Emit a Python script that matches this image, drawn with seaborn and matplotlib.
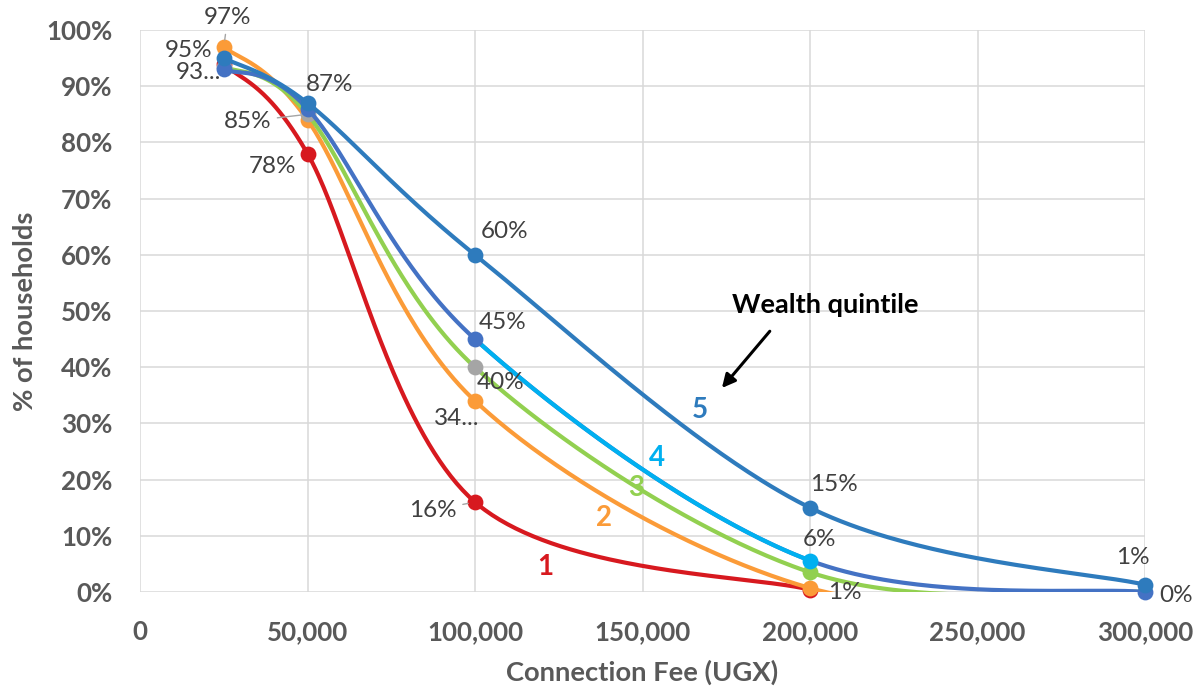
import numpy as np
import pandas as pd
import matplotlib
matplotlib.use("Agg")
import matplotlib.pyplot as plt
from matplotlib.ticker import PercentFormatter, FuncFormatter, MultipleLocator
import seaborn as sns

# ---- data -------------------------------------------------------------
fee = [25000, 50000, 100000, 200000, 300000]

q1 = [0.94, 0.78, 0.16, 0.004]           # quintile 1 (poorest), to 200,000
q2 = [0.97, 0.84, 0.34, 0.007, 0.0]
q3 = [0.935, 0.85, 0.40, 0.035, 0.0]
q4 = [0.93, 0.86, 0.45, 0.056, 0.0]
q5 = [0.95, 0.87, 0.60, 0.15, 0.013]     # quintile 5 (richest)

quintile_names = ["1", "2", "3", "4", "5"]

# ---- styling ----------------------------------------------------------
C_RED = "#d7191f"
C_ORANGE = "#fb9b38"
C_GREEN = "#92d050"
C_GREY = "#a5a5a5"
C_MIDBLUE = "#4472c4"
C_LIGHTBLUE = "#00b0f0"
C_DARKBLUE = "#2e7bbd"
TXT = "#404040"
AXTXT = "#595959"

sns.set_theme(style="whitegrid")
plt.rcParams["font.family"] = ["Lato", "DejaVu Sans"]

W_PX, H_PX = 1200, 688
fig = plt.figure(figsize=(W_PX / 100, H_PX / 100), dpi=100)
L, R, T, B = 140, 1145, 30, 592
ax = fig.add_axes([L / W_PX, 1 - B / H_PX, (R - L) / W_PX, (B - T) / H_PX])

XMAX, YMAX = 300000, 1.0
AX_W, AX_H = R - L, B - T


def smooth(xs, ys, n=80):
    """Smoothed line: cubic Bezier segments with Catmull-Rom tangents
    (1/6 factor), computed in screen proportions."""
    P = np.column_stack([np.asarray(xs, float) / XMAX * AX_W,
                         np.asarray(ys, float) / YMAX * AX_H])
    t = np.linspace(0, 1, n)[:, None]
    out = []
    m = len(P)
    for i in range(m - 1):
        p0 = P[i - 1] if i > 0 else P[i]
        p1, p2 = P[i], P[i + 1]
        p3 = P[i + 2] if i + 2 < m else P[i + 1]
        c1 = p1 + (p2 - p0) / 6.0
        c2 = p2 - (p3 - p1) / 6.0
        seg = ((1 - t) ** 3) * p1 + 3 * ((1 - t) ** 2) * t * c1 \
            + 3 * (1 - t) * t ** 2 * c2 + t ** 3 * p2
        out.append(seg if i == 0 else seg[1:])
    S = np.vstack(out)
    return pd.DataFrame({"fee": S[:, 0] / AX_W * XMAX,
                         "share": S[:, 1] / AX_H * YMAX})


def draw_line(df, color, z):
    sns.lineplot(data=df, x="fee", y="share", ax=ax, color=color, lw=3.0,
                 sort=False, estimator=None, zorder=z, solid_capstyle="round")


def draw_pts(xs, ys, color, z):
    sns.scatterplot(x=xs, y=ys, ax=ax, color=color, s=130, linewidth=0,
                    zorder=z, legend=False, clip_on=False)


# quintile 1
draw_line(smooth(fee[:4], q1), C_RED, 3)
draw_pts(fee[:4], q1, C_RED, 4)
# quintile 2
draw_line(smooth(fee, q2), C_ORANGE, 5)
draw_pts(fee[:4], q2[:4], C_ORANGE, 6)
# quintile 3
draw_line(smooth(fee, q3), C_GREEN, 7)
draw_pts(fee[3:4], q3[3:4], C_GREEN, 8)
draw_pts(fee[:3], q3[:3], C_GREY, 8)
# quintile 4
q4_curve = smooth(fee, q4)
draw_line(q4_curve, C_MIDBLUE, 9)
seg = q4_curve[(q4_curve.fee >= 100000) & (q4_curve.fee <= 200000)]
draw_line(seg, C_LIGHTBLUE, 10)
draw_pts([fee[i] for i in (0, 1, 2, 4)], [q4[i] for i in (0, 1, 2, 4)], C_MIDBLUE, 11)
draw_pts(fee[3:4], q4[3:4], C_LIGHTBLUE, 11)
# quintile 5
draw_line(smooth(fee, q5), C_DARKBLUE, 12)
draw_pts(fee, q5, C_DARKBLUE, 13)

# ---- data labels (offsets in pixels: dx right, dy up) -----------------
def pct(v, trunc=False):
    s = f"{round(v * 100):d}"
    return s + "..." if trunc else s + "%"


labels = [
    (fee[0], q2[0], pct(q2[0]), 4, 29, "center", True),
    (fee[0], q5[0], pct(q5[0]), -35, 8, "center", False),
    (fee[0], q4[0], pct(q4[0], True), -3, -3, "right", False),
    (fee[1], q5[1], pct(q5[1]), 22, 19, "center", False),
    (fee[1], q3[1], pct(q3[1]), -60, -7, "center", True),
    (fee[1], q1[1], pct(q1[1]), -35, -13, "center", False),
    (fee[2], q5[2], pct(q5[2]), 30, 23, "center", False),
    (fee[2], q4[2], pct(q4[2]), 28, 17, "center", False),
    (fee[2], q3[2], pct(q3[2]), 26, -15, "center", False),
    (fee[2], q2[2], pct(q2[2], True), -18, -18, "center", False),
    (fee[2], q1[2], pct(q1[2]), -42, -8, "center", True),
    (fee[3], q5[3], pct(q5[3]), 24, 23, "center", False),
    (fee[3], q4[3], pct(q4[3]), 9, 21, "center", False),
    (fee[3], q2[3], pct(q2[3]), 35, -4, "center", False),
    (fee[4], q5[4], pct(q5[4]), -12, 27, "center", False),
    (fee[4], q4[4], pct(q4[4]), 31, -3, "center", False),
]
for x, y, s, dx, dy, ha, leader in labels:
    kw = {}
    if leader:
        kw["arrowprops"] = dict(arrowstyle="-", color=C_GREY, lw=1.0,
                                shrinkA=2, shrinkB=5)
    ax.annotate(s, xy=(x, y), xytext=(dx * 0.72, dy * 0.72),
                textcoords="offset points", ha=ha, va="center",
                fontsize=17.5, color=TXT, zorder=20, annotation_clip=False, **kw)

# ---- quintile numbers and title ---------------------------------------
qpos = [(121000, 0.044), (138500, 0.132), (148000, 0.185),
        (154300, 0.238), (167200, 0.324)]
qcol = [C_RED, C_ORANGE, C_GREEN, C_LIGHTBLUE, C_DARKBLUE]
for name, (x, y), c in zip(quintile_names, qpos, qcol):
    ax.text(x, y, name, color=c, fontsize=20, fontweight="bold",
            ha="center", va="center", zorder=21)

ax.text(204500, 0.51, "Wealth quintile", color="black", fontsize=19.5,
        fontweight="bold", ha="center", va="center", zorder=21)
ax.annotate("", xy=(173700, 0.363), xytext=(188000, 0.464),
            arrowprops=dict(arrowstyle="-|>", color="black", lw=2.2,
                            mutation_scale=20, shrinkA=0, shrinkB=0),
            zorder=21)

# ---- axes ---------------------------------------------------------------
ax.set_xlim(0, XMAX)
ax.set_ylim(0, YMAX)
ax.xaxis.set_major_locator(MultipleLocator(50000))
ax.yaxis.set_major_locator(MultipleLocator(0.1))
ax.xaxis.set_major_formatter(FuncFormatter(lambda v, _: f"{v:,.0f}"))
ax.yaxis.set_major_formatter(PercentFormatter(1.0, decimals=0))
ax.grid(True, color="#d9d9d9", lw=1.1)
for sp in ax.spines.values():
    sp.set_visible(False)
ax.tick_params(axis="both", length=0, labelsize=18.7, labelcolor=AXTXT)
ax.tick_params(axis="y", pad=20)
ax.tick_params(axis="x", pad=20)
for lab in ax.get_xticklabels() + ax.get_yticklabels():
    lab.set_fontweight("bold")

ax.set_xlabel("Connection Fee (UGX)", fontsize=19.7, fontweight="bold",
              color=AXTXT)
ax.set_ylabel("% of households", fontsize=19.7, fontweight="bold",
              color=AXTXT)
ax.xaxis.set_label_coords(0.5, -0.121)
ax.yaxis.set_label_coords(-0.1025, 0.5)

fig.savefig("out.png", dpi=100)
